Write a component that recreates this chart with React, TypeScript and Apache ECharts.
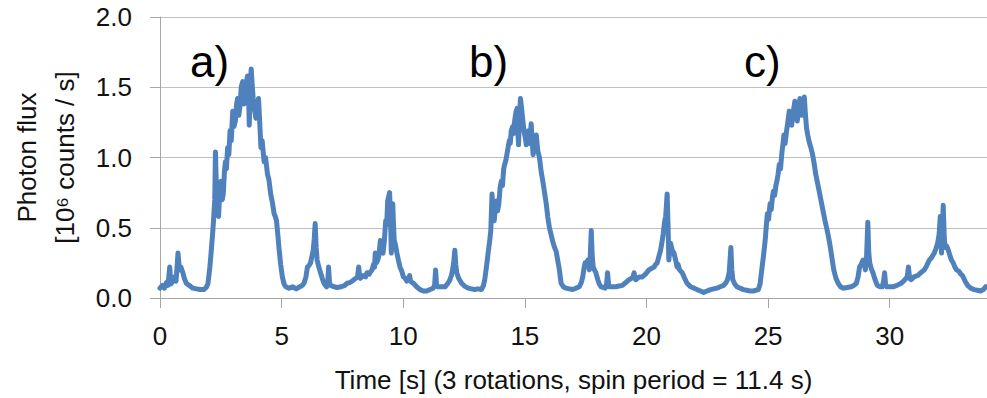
import React, { useEffect, useRef } from "react";
import * as echarts from "echarts";

// Time [s]
const timeS: number[] = [
  0.0, 0.1, 0.18, 0.26, 0.33, 0.4, 0.45, 0.52, 0.6, 0.66, 0.74, 0.8, 0.86, 0.94, 1.0, 1.08, 1.2, 1.35, 1.5, 1.65, 1.8, 1.9, 1.97,
  2.05, 2.1, 2.16, 2.2, 2.25, 2.28, 2.31, 2.33, 2.37, 2.41, 2.46, 2.51, 2.56, 2.6, 2.65, 2.69, 2.73, 2.78, 2.83, 2.88, 2.93, 2.99,
  3.04, 3.1, 3.15, 3.19, 3.24, 3.29, 3.34, 3.4, 3.45, 3.51, 3.56, 3.6, 3.64, 3.67, 3.71, 3.75, 3.79, 3.83, 3.88, 3.94, 3.99, 4.05,
  4.1, 4.15, 4.2, 4.28, 4.34, 4.42, 4.48, 4.55, 4.62, 4.69, 4.74, 4.79, 4.85, 4.9, 4.96, 5.03, 5.1, 5.17,
  5.3, 5.45, 5.6, 5.75, 5.85, 5.92, 6.0, 6.06, 6.12, 6.19, 6.25, 6.3, 6.34, 6.38, 6.42, 6.46, 6.53, 6.6, 6.67, 6.74, 6.8, 6.85,
  6.9, 6.93, 6.97, 7.01, 7.15, 7.28, 7.45, 7.6, 7.69, 7.8, 7.9, 7.97, 8.05, 8.12, 8.17, 8.21, 8.24, 8.35, 8.45, 8.51, 8.6, 8.67,
  8.72, 8.78, 8.82, 8.85, 8.9, 8.95, 9.0, 9.06, 9.1, 9.17, 9.22, 9.28, 9.32, 9.36, 9.4, 9.44, 9.48, 9.51, 9.54, 9.57, 9.6, 9.63,
  9.68, 9.74, 9.8, 9.87, 9.94, 10.01, 10.08, 10.15, 10.22, 10.26, 10.3, 10.36, 10.42, 10.55, 10.69, 10.83, 10.97, 11.1, 11.23,
  11.29, 11.33, 11.37, 11.42, 11.55, 11.72, 11.82, 11.92, 11.98, 12.03, 12.08, 12.12, 12.16, 12.2, 12.28, 12.4, 12.52, 12.67,
  12.8, 12.94, 13.08, 13.22, 13.3, 13.35, 13.42, 13.49, 13.55, 13.6, 13.65, 13.7, 13.74, 13.78, 13.83, 13.88, 13.93, 13.98,
  14.03, 14.08, 14.13, 14.17, 14.22, 14.27, 14.31, 14.36, 14.4, 14.44, 14.5, 14.54, 14.58, 14.63, 14.68, 14.71, 14.74, 14.78,
  14.82, 14.86, 14.92, 14.97, 15.02, 15.06, 15.1, 15.15, 15.2, 15.26, 15.3, 15.34, 15.4, 15.47, 15.53, 15.6, 15.67, 15.74,
  15.81, 15.88, 15.94, 16.01, 16.08, 16.15, 16.22, 16.29, 16.36, 16.42, 16.49, 16.58, 16.69, 16.83, 16.97, 17.1, 17.24, 17.32,
  17.38, 17.43, 17.48, 17.54, 17.59, 17.65, 17.69, 17.73, 17.77, 17.81, 17.86, 17.92, 18.0, 18.06, 18.13, 18.22, 18.3, 18.36,
  18.4, 18.44, 18.47, 18.6, 18.74, 18.88, 19.01, 19.15, 19.28, 19.38, 19.45, 19.49, 19.53, 19.56, 19.7, 19.83, 19.96, 20.1,
  20.2, 20.31, 20.38, 20.44, 20.5, 20.58, 20.64, 20.69, 20.75, 20.79, 20.85, 20.89, 20.92, 20.96, 20.99, 21.06, 21.13, 21.2,
  21.26, 21.3, 21.36, 21.47, 21.57, 21.67, 21.81, 21.95, 22.08, 22.22, 22.35, 22.49, 22.63, 22.76, 22.9, 23.03, 23.17, 23.27,
  23.33, 23.4, 23.47, 23.51, 23.55, 23.63, 23.72, 23.85, 23.99, 24.12, 24.26, 24.4, 24.5, 24.6, 24.67, 24.74, 24.81, 24.88,
  24.93, 24.97, 25.02, 25.08, 25.13, 25.18, 25.22, 25.27, 25.32, 25.36, 25.41, 25.46, 25.51, 25.56, 25.6, 25.65, 25.7, 25.76,
  25.81, 25.87, 25.92, 25.97, 26.03, 26.1, 26.15, 26.2, 26.25, 26.31, 26.36, 26.4, 26.45, 26.49, 26.53, 26.58, 26.63, 26.69,
  26.76, 26.83, 26.9, 26.96, 27.03, 27.1, 27.18, 27.26, 27.34, 27.43, 27.5, 27.56, 27.63, 27.7, 27.79, 27.88, 27.98, 28.08,
  28.25, 28.42, 28.53, 28.63, 28.7, 28.76, 28.83, 28.9, 28.96, 29.0, 29.05, 29.1, 29.14, 29.18, 29.24, 29.31, 29.4, 29.49,
  29.6, 29.69, 29.75, 29.79, 29.83, 29.87, 30.0, 30.13, 30.3, 30.47, 30.57, 30.67, 30.72, 30.77, 30.82, 30.88, 31.0, 31.15,
  31.28, 31.42, 31.52, 31.63, 31.73, 31.83, 31.9, 31.97, 32.03, 32.08, 32.13, 32.17, 32.2, 32.24, 32.27, 32.34, 32.41, 32.48,
  32.54, 32.61, 32.68, 32.75, 32.85, 32.92, 32.99, 33.1, 33.2, 33.33, 33.47, 33.6, 33.74, 33.85, 33.95,
];

// Photon flux [10^6 counts / s]
const fluxM: number[] = [
  0.07, 0.09, 0.07, 0.11, 0.09, 0.22, 0.1, 0.12, 0.15, 0.12, 0.32, 0.2, 0.22, 0.18, 0.14, 0.105, 0.09, 0.07, 0.065, 0.06, 0.06, 0.075, 0.1,
  0.22, 0.32, 0.45, 0.55, 0.7, 1.04, 0.85, 0.74, 0.62, 0.58, 0.78, 0.83, 0.7, 0.74, 0.9, 0.97, 0.92, 1.07, 1.02, 1.19, 1.12, 1.33,
  1.22, 1.26, 1.38, 1.42, 1.3, 1.37, 1.5, 1.54, 1.38, 1.4, 1.55, 1.58, 1.45, 1.23, 1.5, 1.63, 1.52, 1.42, 1.35, 1.28, 1.38, 1.42,
  1.25, 1.07, 1.12, 0.97, 1.0, 0.88, 0.84, 0.74, 0.68, 0.6, 0.58, 0.55, 0.44, 0.34, 0.24, 0.15, 0.1, 0.08,
  0.07, 0.08, 0.065, 0.08, 0.09, 0.105, 0.15, 0.22, 0.23, 0.25, 0.3, 0.34, 0.42, 0.53, 0.36, 0.27, 0.22, 0.18, 0.14, 0.105, 0.09, 0.08,
  0.12, 0.22, 0.11, 0.09, 0.08, 0.075, 0.08, 0.09, 0.105, 0.11, 0.12, 0.13, 0.14, 0.15, 0.22, 0.15, 0.14, 0.16, 0.15, 0.18, 0.17, 0.19,
  0.2, 0.24, 0.22, 0.32, 0.25, 0.27, 0.3, 0.41, 0.33, 0.32, 0.4, 0.55, 0.52, 0.69, 0.72, 0.75, 0.55, 0.32, 0.5, 0.67, 0.52, 0.41,
  0.38, 0.32, 0.27, 0.22, 0.19, 0.15, 0.14, 0.12, 0.13, 0.16, 0.12, 0.11, 0.105, 0.08, 0.06, 0.05, 0.05, 0.06, 0.07,
  0.09, 0.2, 0.09, 0.08, 0.08, 0.08, 0.1, 0.13, 0.16, 0.2, 0.26, 0.34, 0.24, 0.18, 0.14, 0.105, 0.085, 0.07,
  0.065, 0.06, 0.065, 0.06, 0.09, 0.13, 0.22, 0.32, 0.4, 0.48, 0.74, 0.6, 0.55, 0.63, 0.69, 0.62, 0.67, 0.78,
  0.83, 0.8, 0.92, 0.95, 0.98, 1.03, 1.07, 1.12, 1.1, 1.19, 1.22, 1.17, 1.26, 1.32, 1.35, 1.2, 1.09, 1.3,
  1.42, 1.36, 1.26, 1.18, 1.14, 1.09, 1.15, 1.19, 1.1, 1.24, 1.12, 1.02, 1.1, 1.16, 1.05, 1.0, 0.9, 0.83,
  0.75, 0.67, 0.58, 0.5, 0.45, 0.4, 0.36, 0.33, 0.26, 0.2, 0.105, 0.08, 0.07, 0.065, 0.06, 0.07, 0.08, 0.11,
  0.15, 0.21, 0.25, 0.24, 0.27, 0.2, 0.3, 0.48, 0.3, 0.22, 0.2, 0.18, 0.13, 0.1, 0.08, 0.075, 0.07, 0.1,
  0.18, 0.1, 0.08, 0.08, 0.08, 0.085, 0.09, 0.11, 0.13, 0.14, 0.15, 0.18, 0.14, 0.13, 0.15, 0.15, 0.17, 0.2,
  0.21, 0.22, 0.24, 0.25, 0.29, 0.34, 0.4, 0.46, 0.55, 0.58, 0.74, 0.5, 0.27, 0.34, 0.39, 0.34, 0.32, 0.27,
  0.22, 0.24, 0.2, 0.18, 0.14, 0.105, 0.08, 0.07, 0.06, 0.05, 0.04, 0.05, 0.06, 0.065, 0.07, 0.08, 0.09, 0.11,
  0.13, 0.18, 0.36, 0.2, 0.13, 0.1, 0.08, 0.07, 0.06, 0.055, 0.05, 0.05, 0.055, 0.06, 0.1, 0.2, 0.3, 0.41,
  0.52, 0.6, 0.56, 0.67, 0.63, 0.72, 0.76, 0.73, 0.8, 0.83, 0.88, 0.95, 0.92, 1.02, 1.08, 1.16, 1.1, 1.19,
  1.25, 1.33, 1.28, 1.23, 1.32, 1.4, 1.3, 1.26, 1.35, 1.42, 1.36, 1.3, 1.38, 1.43, 1.32, 1.21, 1.16, 1.11,
  1.07, 1.02, 0.95, 0.88, 0.82, 0.76, 0.69, 0.62, 0.55, 0.48, 0.42, 0.36, 0.28, 0.2, 0.14, 0.105, 0.08, 0.07,
  0.075, 0.08, 0.09, 0.105, 0.15, 0.22, 0.24, 0.27, 0.24, 0.2, 0.3, 0.54, 0.32, 0.25, 0.21, 0.18, 0.13, 0.09,
  0.08, 0.08, 0.12, 0.18, 0.1, 0.08, 0.08, 0.08, 0.09, 0.105, 0.12, 0.14, 0.15, 0.22, 0.14, 0.13, 0.15, 0.16,
  0.18, 0.2, 0.23, 0.27, 0.29, 0.32, 0.35, 0.39, 0.45, 0.58, 0.32, 0.5, 0.66, 0.45, 0.36, 0.37, 0.34, 0.3,
  0.27, 0.25, 0.22, 0.2, 0.19, 0.17, 0.16, 0.12, 0.09, 0.07, 0.06, 0.055, 0.05, 0.06, 0.08,
];

const peakLabels = ["a)", "b)", "c)"];
const xAxisTitle = "Time [s] (3 rotations, spin period = 11.4 s)";
const yAxisTitleLines = ["Photon flux", "[10\u2076 counts / s]"];

const FONT = "'Liberation Sans', Arial, sans-serif";
const TEXT = "#111111";

export default function App() {
  const ref = useRef<HTMLDivElement>(null);

  useEffect(() => {
    if (!ref.current) return;
    const chart = echarts.init(ref.current, undefined, { renderer: "svg" });
    const n = Math.min(timeS.length, fluxM.length);
    const data: [number, number][] = [];
    for (let i = 0; i < n; i++) data.push([timeS[i], fluxM[i]]);

    const labelX = [190, 469, 744];

    chart.setOption({
      animation: false,
      backgroundColor: "#ffffff",
      grid: { left: 157, right: 0, top: 17, bottom: 98, containLabel: false },
      xAxis: {
        type: "value",
        min: 0,
        max: 34,
        interval: 5,
        name: xAxisTitle,
        nameLocation: "middle",
        nameGap: 69,
        nameTextStyle: { fontFamily: FONT, fontSize: 26, color: TEXT },
        axisLine: { show: true, lineStyle: { color: "#a6a6a6", width: 1 } },
        axisTick: { show: true, length: 10, lineStyle: { color: "#a6a6a6" } },
        axisLabel: {
          margin: 25,
          fontFamily: FONT,
          fontSize: 26,
          color: TEXT,
          showMaxLabel: false,
          formatter: (v: number) => (v % 5 === 0 ? String(v) : ""),
        },
        splitLine: { show: false },
      },
      yAxis: {
        type: "value",
        min: 0,
        max: 2,
        interval: 0.5,
        name: yAxisTitleLines.join("\n"),
        nameLocation: "middle",
        nameRotate: 90,
        nameGap: 76,
        nameTextStyle: { fontFamily: FONT, fontSize: 26, color: TEXT, lineHeight: 38 },
        axisLine: { show: true, lineStyle: { color: "#a6a6a6", width: 1 } },
        axisTick: { show: true, length: 10, lineStyle: { color: "#a6a6a6" } },
        axisLabel: {
          margin: 28,
          fontFamily: FONT,
          fontSize: 26,
          color: TEXT,
          formatter: (v: number) => v.toFixed(1),
        },
        splitLine: { show: true, lineStyle: { color: "#c0c0c0", width: 1 } },
      },
      graphic: peakLabels.map((t, i) => ({
        type: "text",
        x: labelX[i],
        y: 61,
        z: 10,
        style: {
          text: t,
          fontFamily: FONT,
          fontSize: 44,
          fill: "#000000",
          align: "left",
          verticalAlign: "middle",
        },
      })),
      series: [
        {
          type: "line",
          data,
          showSymbol: false,
          symbol: "none",
          lineStyle: { color: "#4f81bd", width: 5, join: "round", cap: "round" },
          itemStyle: { color: "#4f81bd" },
        },
      ],
    });
    return () => chart.dispose();
  }, []);

  return (
    <div
      ref={ref}
      style={{ position: "fixed", left: 0, top: 0, width: 987, height: 398, background: "#fff" }}
    />
  );
}
